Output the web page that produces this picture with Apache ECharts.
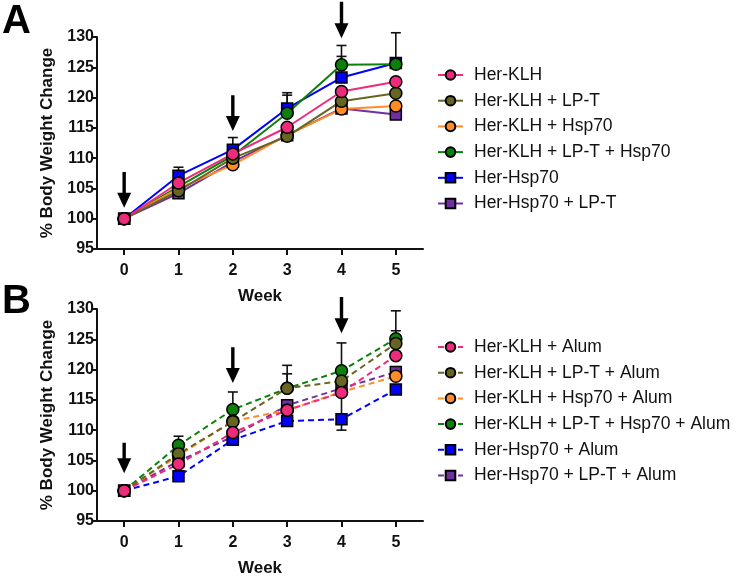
<!DOCTYPE html>
<html>
<head>
<meta charset="utf-8">
<script src="https://cdn.jsdelivr.net/npm/echarts@6/dist/echarts.min.js"></script>
<style>
html,body{margin:0;padding:0;background:#fff;}
#chart{width:737px;height:576px;}
</style>
</head>
<body>
<div id="chart"></div>
<script>
// ---- categories / ticks ----
var weeks = ['0', '1', '2', '3', '4', '5'];
var yTicks = [95, 100, 105, 110, 115, 120, 125, 130];

// ---- Panel A series (% body weight change) ----
var namesA = ['Her-KLH', 'Her-KLH + LP-T', 'Her-KLH + Hsp70', 'Her-KLH + LP-T + Hsp70', 'Her-Hsp70', 'Her-Hsp70 + LP-T'];
var herKLH_A         = [100, 105.9, 110.7, 115.1, 121.0, 122.6];
var herKLH_LPT_A     = [100, 104.6, 110.0, 113.6, 119.4, 120.7];
var herKLH_Hsp70_A   = [100, 105.0, 108.9, 113.8, 118.1, 118.6];
var herKLH_LPT_Hsp_A = [100, 105.3, 110.4, 117.4, 125.4, 125.5];
var herHsp70_A       = [100, 107.1, 111.4, 118.2, 123.3, 125.7];
var herHsp70_LPT_A   = [100, 104.2, 109.4, 113.8, 118.2, 117.2];

// ---- Panel B series ----
var namesB = ['Her-KLH + Alum', 'Her-KLH + LP-T + Alum', 'Her-KLH + Hsp70 + Alum', 'Her-KLH + LP-T + Hsp70 + Alum', 'Her-Hsp70 + Alum', 'Her-Hsp70 + LP-T + Alum'];
var herKLH_B         = [100, 104.4, 109.6, 113.3, 116.2, 122.3];
var herKLH_LPT_B     = [100, 106.1, 111.4, 116.9, 118.1, 124.3];
var herKLH_Hsp70_B   = [100, 105.8, 111.5, 113.3, 116.3, 118.9];
var herKLH_LPT_Hsp_B = [100, 107.5, 113.4, 116.9, 119.8, 125.1];
var herHsp70_B       = [100, 102.4, 108.4, 111.5, 111.8, 116.7];
var herHsp70_LPT_B   = [100, 104.9, 108.9, 114.1, 116.9, 119.6];

// ---- error bars: [week index, from value, to value] ----
var errA = [[1, 107.1, 108.5], [2, 111.4, 113.4], [3, 118.2, 120.8], [3, 117.4, 120.4],
            [4, 125.4, 128.6], [4, 123.3, 126.8], [5, 125.7, 130.7]];
var errB = [[1, 107.5, 109.0], [2, 113.4, 116.3], [3, 116.9, 120.7], [3, 116.9, 119.3],
            [4, 119.8, 124.4], [4, 116.2, 110.0], [5, 125.1, 129.7], [5, 124.3, 126.4]];

// ---- injection arrows: [week index, tip value, tail value] ----
var arrowsA = [[0, 101.8, 107.7], [2, 114.5, 120.4], [4, 129.8, 135.8]];
var arrowsB = [[0, 102.9, 107.9], [2, 117.8, 123.7], [4, 126.0, 132.0]];

var colors = ['#EE2A7B', '#666622', '#FF8C27', '#0B800B', '#0000FF', '#7030A0'];
var symbols = ['circle', 'circle', 'circle', 'circle', 'rect', 'rect'];
var FONT = 'Arial, "Liberation Sans", sans-serif';

var chart = echarts.init(document.getElementById('chart'), null, {renderer: 'canvas'});

function axisY(gi) {
  return {
    type: 'value', gridIndex: gi, min: 95, max: 130, interval: 5,
    name: '% Body Weight Change', nameLocation: 'middle', nameGap: 41,
    nameTextStyle: {fontFamily: FONT, fontWeight: 'bold', fontSize: 17, color: '#111'},
    axisLine: {show: true, lineStyle: {color: '#111', width: 2}},
    axisTick: {show: true, length: 5, lineStyle: {color: '#111', width: 2}},
    axisLabel: {fontFamily: FONT, fontWeight: 'bold', fontSize: 16, color: '#111', margin: 3},
    splitLine: {show: false}
  };
}
function axisX(gi) {
  return {
    type: 'category', gridIndex: gi, data: weeks, boundaryGap: true,
    name: 'Week', nameLocation: 'middle', nameGap: 39,
    nameTextStyle: {fontFamily: FONT, fontWeight: 'bold', fontSize: 17, color: '#111'},
    axisLine: {show: true, lineStyle: {color: '#111', width: 2}},
    axisTick: {show: true, alignWithLabel: true, length: 6, lineStyle: {color: '#111', width: 2}},
    axisLabel: {fontFamily: FONT, fontWeight: 'bold', fontSize: 16, color: '#111', margin: 14},
    splitLine: {show: false}
  };
}

function errSeries(gi, data) {
  return {
    type: 'custom', xAxisIndex: gi, yAxisIndex: gi, data: data, clip: false, z: 1,
    silent: true,
    renderItem: function (params, api) {
      var p0 = api.coord([api.value(0), api.value(1)]);
      var p1 = api.coord([api.value(0), api.value(2)]);
      var st = {stroke: '#111', lineWidth: 1.6};
      return {type: 'group', children: [
        {type: 'line', shape: {x1: p0[0], y1: p0[1], x2: p1[0], y2: p1[1]}, style: st},
        {type: 'line', shape: {x1: p1[0] - 5, y1: p1[1], x2: p1[0] + 5, y2: p1[1]}, style: st}
      ]};
    }
  };
}
function arrowSeries(gi, data) {
  return {
    type: 'custom', xAxisIndex: gi, yAxisIndex: gi, data: data, clip: false, z: 5,
    silent: true,
    renderItem: function (params, api) {
      var tip = api.coord([api.value(0), api.value(1)]);
      var tail = api.coord([api.value(0), api.value(2)]);
      var x = tip[0], hl = 15, hw = 7, sw = 1.7;
      return {type: 'polygon', shape: {points: [
        [x - sw, tail[1]], [x + sw, tail[1]], [x + sw, tip[1] - hl], [x + hw, tip[1] - hl],
        [x, tip[1]], [x - hw, tip[1] - hl], [x - sw, tip[1] - hl]]},
        style: {fill: '#000'}};
    }
  };
}

function lineSeries(gi, names, datas, dashed) {
  var out = [];
  for (var i = datas.length - 1; i >= 0; i--) {
    out.push({
      type: 'line', name: names[i], xAxisIndex: gi, yAxisIndex: gi, data: datas[i],
      symbol: symbols[i], symbolSize: symbols[i] === 'rect' ? 11 : 12,
      showAllSymbol: true, z: 3,
      lineStyle: {color: colors[i], width: 2, type: dashed ? [6, 4] : 'solid'},
      itemStyle: {color: colors[i], borderColor: '#000', borderWidth: 1.5},
      emphasis: {disabled: true}, animation: false
    });
  }
  return out;
}

function legend(top, names) {
  return {
    data: names, orient: 'vertical', left: 432, top: top,
    itemWidth: 25, itemHeight: 12, itemGap: 7.7,
    textStyle: {fontFamily: FONT, fontSize: 17.5, lineHeight: 18, color: '#111', padding: [0, 0, 0, 6]},
    selectedMode: false
  };
}

var series = [];
series.push(errSeries(0, errA));
series = series.concat(lineSeries(0, namesA,
  [herKLH_A, herKLH_LPT_A, herKLH_Hsp70_A, herKLH_LPT_Hsp_A, herHsp70_A, herHsp70_LPT_A], false));
series.push(arrowSeries(0, arrowsA));
series.push(errSeries(1, errB));
series = series.concat(lineSeries(1, namesB,
  [herKLH_B, herKLH_LPT_B, herKLH_Hsp70_B, herKLH_LPT_Hsp_B, herHsp70_B, herHsp70_LPT_B], true));
series.push(arrowSeries(1, arrowsB));

chart.setOption({
  animation: false,
  backgroundColor: '#fff',
  grid: [
    {left: 97, top: 37, width: 326, height: 212, outerBoundsMode: 'none', containLabel: false},
    {left: 97, top: 309, width: 326, height: 212, outerBoundsMode: 'none', containLabel: false}
  ],
  xAxis: [axisX(0), axisX(1)],
  yAxis: [axisY(0), axisY(1)],
  legend: [legend(61, namesA), legend(333, namesB)],
  graphic: [
    {type: 'text', left: 2, top: 2, style: {text: 'A', fontFamily: FONT, fontWeight: 'bold', fontSize: 40, fill: '#000'}},
    {type: 'text', left: 2, top: 282, style: {text: 'B', fontFamily: FONT, fontWeight: 'bold', fontSize: 40, fill: '#000'}}
  ],
  series: series
});
</script>
</body>
</html>
